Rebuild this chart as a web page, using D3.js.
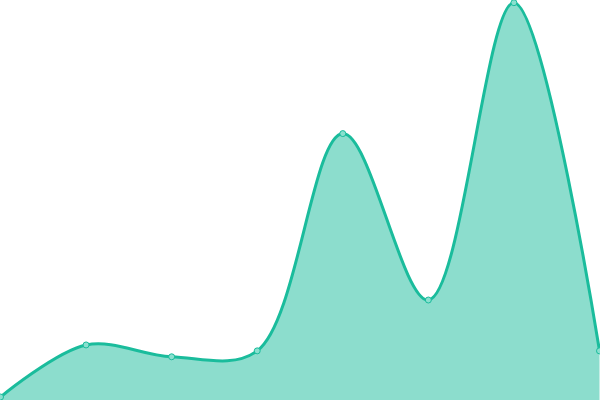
<!DOCTYPE html>
<html>
<head>
<meta charset="utf-8">
<script src="https://cdn.jsdelivr.net/npm/d3@7"></script>
<style>
  html, body { margin: 0; padding: 0; background: #fff; }
  svg { display: block; }
</style>
</head>
<body>
<svg id="chart" width="600" height="400"></svg>
<script>
"use strict";

// one value per evenly spaced point, left to right
const labels = ["p1", "p2", "p3", "p4", "p5", "p6", "p7", "p8"];
const values = [0, 13.2, 10.2, 11.7, 66.8, 24.6, 100, 11.7];
const yDomain = [0, 100];

const width = 600, height = 400;
const svg = d3.select("svg#chart");

const x = d3.scalePoint(labels, [0.5, width - 0.5]);
const y = d3.scaleLinear(yDomain, [397, 2.7]);

const points = labels.map((l, i) => [l, values[i]]);

const area = d3.area()
    .x(d => x(d[0]))
    .y0(height)
    .y1(d => y(d[1]))
    .curve(d3.curveCatmullRom);

const line = d3.line()
    .x(d => x(d[0]))
    .y(d => y(d[1]))
    .curve(d3.curveCatmullRom);

svg.append("path")
    .datum(points)
    .attr("d", area)
    .attr("fill", "#1abc9c")
    .attr("fill-opacity", 0.5);

svg.append("path")
    .datum(points)
    .attr("d", line)
    .attr("fill", "none")
    .attr("stroke", "#1abc9c")
    .attr("stroke-width", 3);

svg.append("g")
    .selectAll("circle")
    .data(points)
    .join("circle")
    .attr("cx", d => x(d[0]))
    .attr("cy", d => y(d[1]))
    .attr("r", 3)
    .attr("fill", "#8ae0cf")
    .attr("stroke", "#1abc9c")
    .attr("stroke-width", 1);
</script>
</body>
</html>
